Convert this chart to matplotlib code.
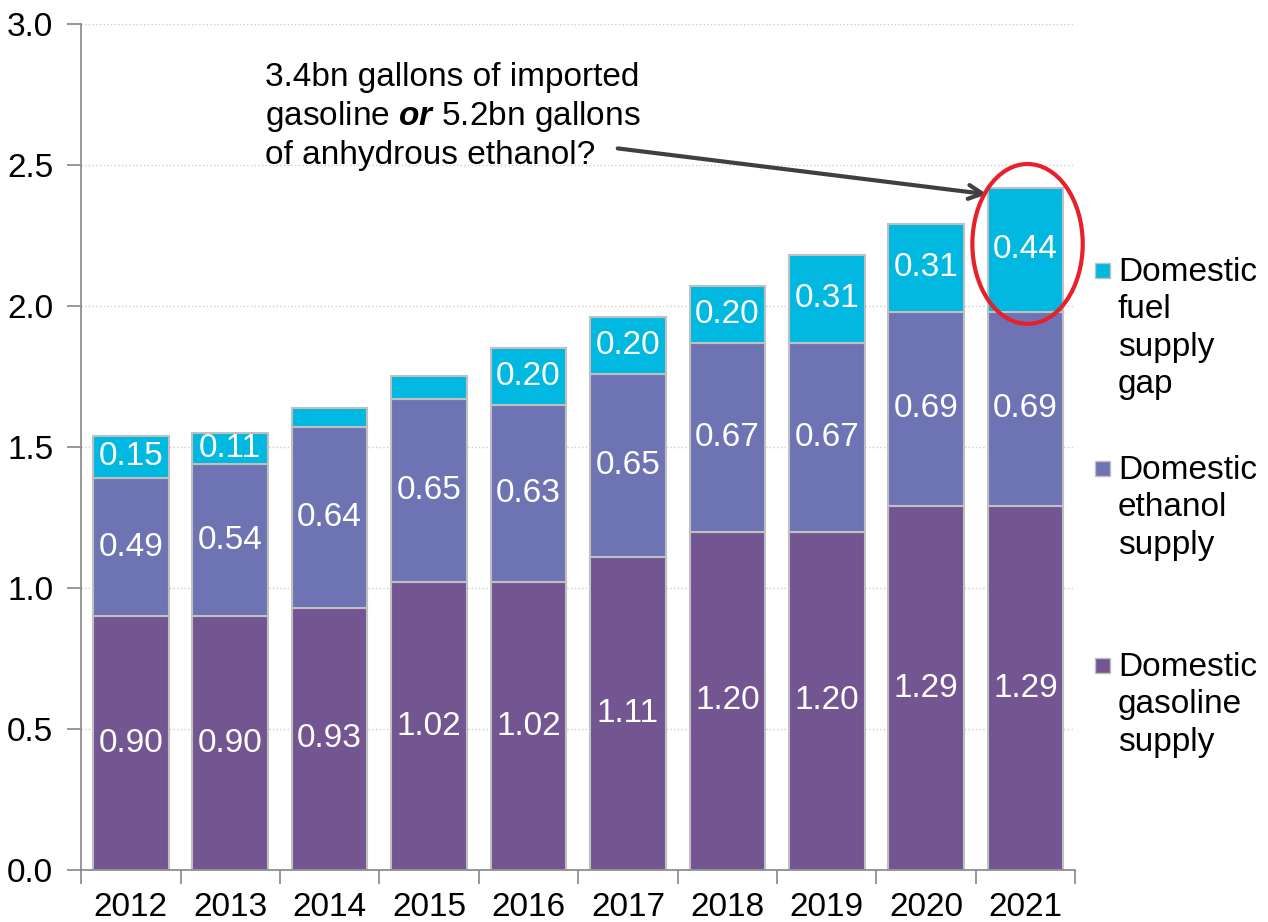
import numpy as np
import matplotlib
matplotlib.use("Agg")
import matplotlib.pyplot as plt
from matplotlib.patches import Ellipse, Rectangle

plt.rcParams['font.family'] = ['Liberation Sans', 'DejaVu Sans']
plt.rcParams['mathtext.fontset'] = 'custom'
plt.rcParams['mathtext.rm'] = 'Liberation Sans'
plt.rcParams['mathtext.it'] = 'Liberation Sans:italic'
plt.rcParams['mathtext.bf'] = 'Liberation Sans:bold'
plt.rcParams['mathtext.bfit'] = 'Liberation Sans:italic:bold'

years = ['2012', '2013', '2014', '2015', '2016', '2017', '2018', '2019', '2020', '2021']
gasoline = [0.90, 0.90, 0.93, 1.02, 1.02, 1.11, 1.20, 1.20, 1.29, 1.29]
ethanol = [0.49, 0.54, 0.64, 0.65, 0.63, 0.65, 0.67, 0.67, 0.69, 0.69]
gap = [0.15, 0.11, 0.07, 0.08, 0.20, 0.20, 0.20, 0.31, 0.31, 0.44]
gap_labels = ['0.15', '0.11', '', '', '0.20', '0.20', '0.20', '0.31', '0.31', '0.44']

c_gas = '#735592'
c_eth = '#6E73B4'
c_gap = '#00B8E0'
FS = 24

fig = plt.figure(figsize=(12.68, 9.22), dpi=100)
ax = fig.add_axes([0.064, 0.0564, 0.784, 0.9176])

x = np.arange(len(years))
w = 0.76
edge = dict(edgecolor='#c0c0c0', linewidth=1.5)
b1 = ax.bar(x, gasoline, w, color=c_gas, zorder=2, **edge)
b2 = ax.bar(x, ethanol, w, bottom=gasoline, color=c_eth, zorder=2, **edge)
bot3 = np.array(gasoline) + np.array(ethanol)
b3 = ax.bar(x, gap, w, bottom=bot3, color=c_gap, zorder=2, **edge)

ax.bar_label(b1, labels=['%.2f' % v for v in gasoline], label_type='center',
             color='white', fontsize=FS)
ax.bar_label(b2, labels=['%.2f' % v for v in ethanol], label_type='center',
             color='white', fontsize=FS)
ax.bar_label(b3, labels=gap_labels, label_type='center', color='white', fontsize=FS)

ax.set_xlim(-0.5, 9.5)
ax.set_ylim(0, 3.0)
ax.set_yticks(np.arange(0, 3.01, 0.5))
ax.set_yticklabels(['%.1f' % v for v in np.arange(0, 3.01, 0.5)])
ax.set_xticks(x)
ax.set_xticklabels(years)
ax.set_xticks(np.arange(-0.5, 9.6, 1), minor=True)
ax.tick_params(axis='x', which='major', length=0, labelsize=FS, pad=16)
ax.tick_params(axis='x', which='minor', length=10, color='#868686', width=1.2)
ax.tick_params(axis='y', length=10, color='#868686', width=1.2, labelsize=FS, pad=10)
ax.yaxis.grid(True, color='#cccccc', linestyle=':', linewidth=1)
ax.set_axisbelow(True)
for s in ['top', 'right']:
    ax.spines[s].set_visible(False)
for s in ['left', 'bottom']:
    ax.spines[s].set_color('#868686')
    ax.spines[s].set_linewidth(1.2)

# annotation
ax.text(1.35, 2.865, '3.4bn gallons of imported\ngasoline $\\mathbfit{or}$ 5.2bn gallons\nof anhydrous ethanol?',
        fontsize=FS, va='top', ha='left', linespacing=1.24)
ax.annotate('', xy=(8.64, 2.395), xytext=(4.87, 2.56),
            arrowprops=dict(arrowstyle='->', color='#404040', lw=3,
                            mutation_scale=25))
ax.add_patch(Ellipse((9.02, 2.22), 1.11, 0.567, fill=False, edgecolor='#E8202A',
                     linewidth=3, clip_on=False, zorder=5))

# legend
leg = [(c_gap, 'Domestic\nfuel\nsupply\ngap', 270),
       (c_eth, 'Domestic\nethanol\nsupply', 468),
       (c_gas, 'Domestic\ngasoline\nsupply', 665)]
for col, lab, ypx in leg:
    fig.patches.append(Rectangle((1095 / 1268, 1 - (ypx + 8) / 922), 15 / 1268, 15 / 922,
                                 transform=fig.transFigure, facecolor=col,
                                 edgecolor='#c0c0c0', linewidth=1))
    fig.text(1118 / 1268, 1 - (ypx - 13) / 922, lab, fontsize=FS, va='top',
             ha='left', linespacing=1.27)

fig.savefig('out.png', dpi=100)
